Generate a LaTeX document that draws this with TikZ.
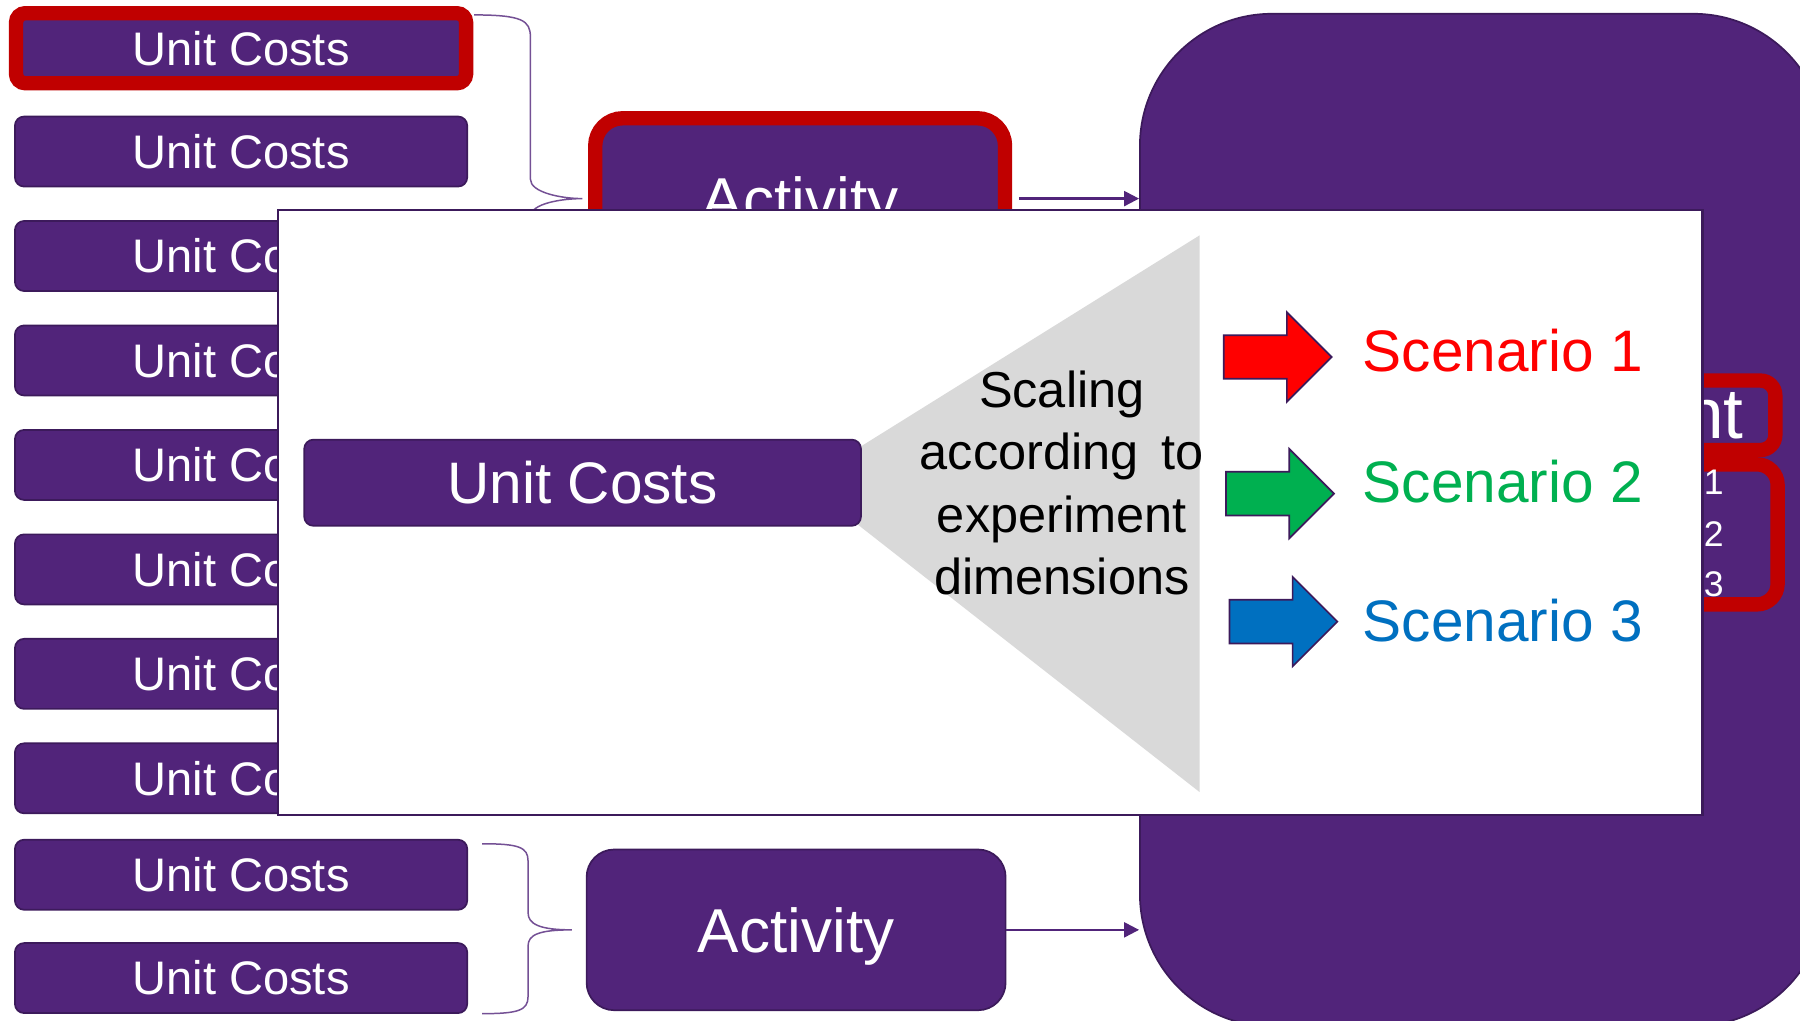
\documentclass[tikz,border=0pt]{standalone}
\usepackage{fontspec}
\setmainfont{Liberation Sans}
\usetikzlibrary{arrows.meta}
\definecolor{purp}{HTML}{51247A}
\definecolor{pdark}{HTML}{3C1A5B}
\definecolor{redc}{HTML}{C00000}
\definecolor{trig}{HTML}{D9D9D9}
\definecolor{scred}{HTML}{FF0000}
\definecolor{scgreen}{HTML}{00B050}
\definecolor{scblue}{HTML}{0070C0}
\tikzset{
  ucbox/.style={draw=pdark, fill=purp, line width=1.5pt, rounded corners=8pt, minimum width=394pt, minimum height=61pt, inner sep=0pt, text=white, font=\fontsize{41}{49}\selectfont},
  actbox/.style={draw=pdark, fill=purp, line width=1.5pt, rounded corners=24pt, minimum height=140pt, inner sep=0pt, text=white, text depth=0pt, font=\fontsize{54}{64}\selectfont},
  redmark/.style={draw=redc, line width=12.5pt},
  feed/.style={draw=purp, line width=2pt, -{Triangle[length=13pt,width=13pt]}},
  bracestyle/.style={draw=purp!80!white, line width=1.3pt},
  scal/.style={anchor=base, font=\fontsize{44}{54}\selectfont, text=black, inner sep=0pt},
  scen/.style={anchor=base west, font=\fontsize{51}{60}\selectfont, inner sep=0pt},
  blockarrow/.pic={\path[pic actions] (0,-19) -- (55,-19) -- (55,-39) -- (94,0) -- (55,39) -- (55,19) -- (0,19) -- cycle;}
}
\begin{document}
\begin{tikzpicture}[x=1pt,y=-1pt]
\useasboundingbox (0,0) rectangle (1568,889);
\clip (0,0) rectangle (1568,889);
\fill[white] (0,0) rectangle (1568,889);

% big rounded shape on the right
\node[draw=pdark, fill=purp, line width=1.5pt, rounded corners=115pt, minimum width=597pt, minimum height=882pt, inner sep=0pt] (big) at (1291.5,453) {};
\draw[redmark, rounded corners=13pt] (1420,331.5) -- (1546.5,331.5) -- (1546.5,392) -- (1420,392);
\draw[redmark, rounded corners=18pt] (1420,404.5) -- (1548.5,404.5) -- (1548.5,526.5) -- (1420,526.5);
\node[anchor=base east, text=white, font=\fontsize{62}{70}\selectfont, inner sep=0pt] (nt) at (1519,382) {nt};
\node[anchor=base west, text=white, font=\fontsize{31}{36}\selectfont, inner sep=0pt] (d1) at (1484,431) {1};
\node[anchor=base west, text=white, font=\fontsize{31}{36}\selectfont, inner sep=0pt] (d2) at (1484,476) {2};
\node[anchor=base west, text=white, font=\fontsize{31}{36}\selectfont, inner sep=0pt] (d3) at (1484,520) {3};

% left column
\node[ucbox, draw=redc, line width=12.5pt, minimum width=392pt] (u1) at (210,42) {Unit Costs};
\foreach \i/\y in {2/132,3/223,4/314,5/405,6/496,7/587,8/678,9/762,10/852}
  \node[ucbox] (u\i) at (210,\y) {Unit Costs};

% activity boxes
\node[actbox, minimum width=357pt, draw=redc, line width=12.5pt] (a1) at (697,173) {Activity};
\node[actbox, minimum width=365pt] (a2) at (693.5,810) {Activity};

% braces
\coordinate (t1) at (413,13);
\coordinate (t1b) at (413,335);
\coordinate (tip1) at ([xshift=-5pt]a1.west);
\draw[bracestyle] (t1) .. controls (455,13) and (462,18) .. (462,32) -- (462,156)
  .. controls (462,168) and (490,173) .. (tip1)
  .. controls (490,173) and (462,177) .. (462,189) -- (462,316)
  .. controls (462,330) and (455,335) .. (t1b);
\coordinate (t9) at (420,735);
\coordinate (t10) at (420,883);
\coordinate (tip2) at ([xshift=-12pt]a2.west);
\draw[bracestyle] (t9) .. controls (452,735) and (460,738) .. (460,750) -- (460,795)
  .. controls (460,805) and (470,810) .. (tip2)
  .. controls (470,810) and (460,814) .. (460,824) -- (460,868)
  .. controls (460,880) and (452,883) .. (t10);

% feeds
\draw[feed] ([xshift=6pt]a1.east) -- (a1.east -| big.west);
\draw[feed] (a2.east) -- (a2.east -| big.west);

% overlay
\node[draw=pdark, fill=white, line width=2.2pt, minimum width=1241pt, minimum height=527pt, inner sep=0pt] (ov) at (862.5,446.5) {};
\fill[trig] (700,420) -- (1045,205) -- (1045,690) -- cycle;
\node[ucbox, minimum width=485pt, minimum height=75pt, font=\fontsize{51}{60}\selectfont] (uc) at (507.5,420.5) {Unit Costs};

\node[scal] (s1) at (925,355) {Scaling};
\node[scal] (s2) at (925,409) {according\hspace{8pt} to};
\node[scal] (s3) at (925,464) {experiment};
\node[scal] (s4) at (925,518) {dimensions};

\pic[fill=scred, draw=pdark, line width=1.5pt] at (1066,311) {blockarrow};
\pic[fill=scgreen, draw=pdark, line width=1.5pt] at (1068,430) {blockarrow};
\pic[fill=scblue, draw=pdark, line width=1.5pt] at (1071,541.5) {blockarrow};

\node[scen, text=scred] (sc1) at (1187,324) {Scenario 1};
\node[scen, text=scgreen] (sc2) at (1187,438) {Scenario 2};
\node[scen, text=scblue] (sc3) at (1187,559) {Scenario 3};
\end{tikzpicture}
\end{document}
